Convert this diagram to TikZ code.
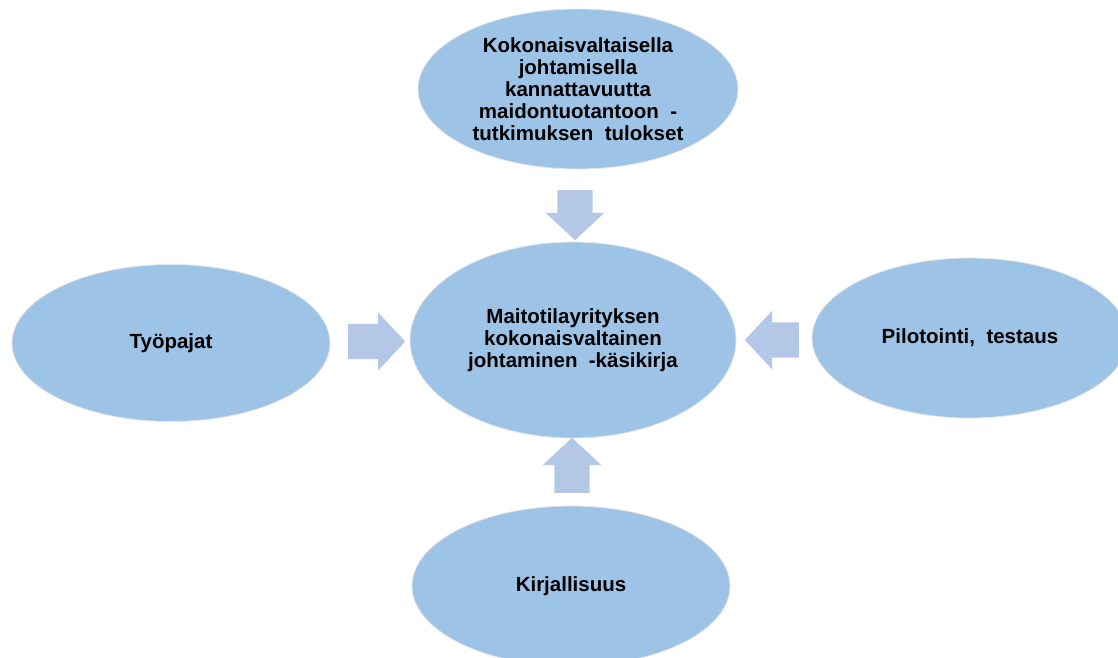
\documentclass[tikz,border=0pt]{standalone}
\usepackage{fontspec}
\setmainfont{Liberation Sans}
\usetikzlibrary{shapes.geometric, shapes.arrows}
\definecolor{ovalblue}{HTML}{9DC3E6}
\definecolor{arrowblue}{HTML}{B4C7E7}

\begin{document}
\begin{tikzpicture}[x=1pt, y=-1pt,
		oval/.style={ellipse, fill=ovalblue, draw=gray!20, line width=0.8pt, inner sep=0pt, align=center, font=\fontsize{20.5}{22}\selectfont\bfseries},
		bigarrow/.style={single arrow, anchor=tail, fill=arrowblue, inner xsep=0pt, inner ysep=17.5pt, minimum width=58pt, single arrow head extend=11.5pt, single arrow tip angle=94}]
		\useasboundingbox (0,0) rectangle (1118,657);
		\node[oval, minimum width=326pt, minimum height=196pt] (handbook) at (573,340) {Maitotilayrityksen\\kokonaisvaltainen\\johtaminen\ \ -käsikirja};
		\node[oval, minimum width=320pt, minimum height=160pt] (results) at (578,89) {Kokonaisvaltaisella\\johtamisella\\kannattavuutta\\maidontuotantoon\ \ -\\tutkimuksen\ \ tulokset};
		\node[oval, minimum width=318pt, minimum height=157pt] (workshops) at (171,343) {Työpajat};
		\node[oval, minimum width=316pt, minimum height=160pt] (piloting) at (970,338) {Pilotointi,\ \ testaus};
		\node[oval, minimum width=318pt, minimum height=160pt] (literature) at (571,586) {Kirjallisuus};
		\node[bigarrow, minimum height=50pt, rotate=-90] (fromresults) at (575,190) {};
		\node[bigarrow, minimum height=57pt] (fromworkshops) at (348,341.5) {};
		\node[bigarrow, minimum height=54pt, rotate=180] (frompiloting) at (799,340) {};
		\node[bigarrow, minimum height=55pt, rotate=90] (fromliterature) at (572,493) {};
	\end{tikzpicture}
\end{document}
